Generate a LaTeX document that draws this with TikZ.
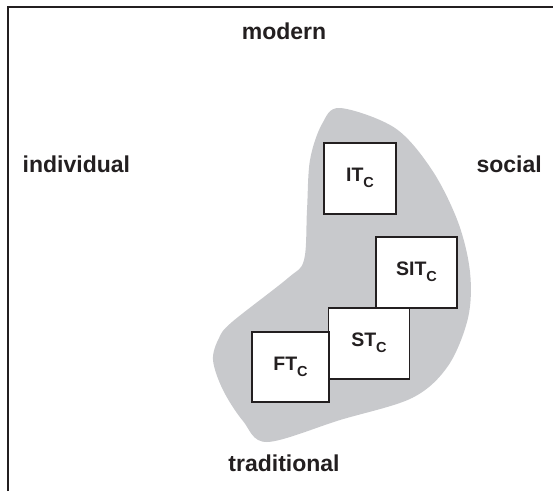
\documentclass[tikz,border=0pt]{standalone}
\usepackage{fontspec}
\setmainfont{Liberation Sans}
\definecolor{blobgray}{RGB}{200,201,204}
\definecolor{ink}{RGB}{35,31,32}
% lowered capital subscript used in the type names
\newcommand{\typesub}[1]{\raisebox{-6pt}{\fontsize{14.5}{15}\selectfont #1}}
\begin{document}
\begin{tikzpicture}[x=1pt,y=-1pt,
  axislabel/.style={font=\fontsize{23}{27}\selectfont\bfseries, text=ink, inner sep=0pt},
  typebox/.style={draw=ink, line width=1.6pt, fill=white, inner sep=0pt,
    text height=14pt, text depth=8pt,
    font=\fontsize{19.5}{22}\selectfont\bfseries, text=ink},
]
\useasboundingbox (0,0) rectangle (553,491);
% open frame: top and left edges only
\draw[ink, line width=1.4pt] (8,491) -- (8,7) -- (553,7);
% shaded region
\fill[blobgray] plot[smooth cycle, tension=0.55] coordinates {
  (340,108) (395,128) (432,170) (458,222) (470,272) (468,318) (448,366)
  (412,398) (340,420) (267,442) (243,421) (223,390) (213,360) (219,338)
  (232,322) (288,278) (304,260) (307,210) (310,160) (322,124)};
% axis labels
\node[axislabel, anchor=base] (modern) at (284,39.5) {modern};
\node[axislabel, anchor=base] (traditional) at (284,471.5) {traditional};
\node[axislabel, anchor=base west] (individual) at (22.5,172) {individual};
\node[axislabel, anchor=base east] (social) at (542,172) {social};
% type boxes
\node[typebox, minimum width=72pt, minimum height=71pt] (IT) at (360,178.5) {IT\typesub{C}};
\node[typebox, minimum width=81pt, minimum height=71pt] (ST) at (369,343.5) {ST\typesub{C}};
\node[typebox, minimum width=81pt, minimum height=71pt] (SIT) at (416.5,272.5) {SIT\typesub{C}};
\node[typebox, minimum width=77pt, minimum height=70pt] (FT) at (290.5,367) {FT\typesub{C}};
\end{tikzpicture}
\end{document}
